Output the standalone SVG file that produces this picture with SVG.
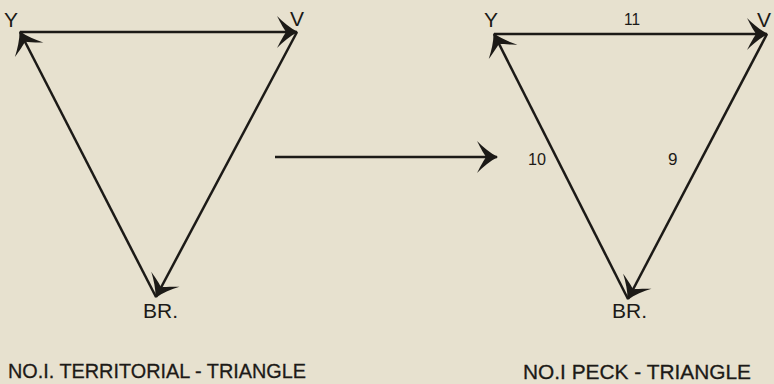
<svg xmlns="http://www.w3.org/2000/svg" width="774" height="384" viewBox="0 0 774 384">
  <style>
    .edge { stroke: #1c1a17; stroke-width: 2.5; fill: none; marker-end: url(#barb); }
    .lbl { font-family: "Liberation Sans", Arial, sans-serif; fill: #1c1a17; font-size: 21px; }
    .num { font-family: "Liberation Sans", Arial, sans-serif; fill: #1c1a17; font-size: 17px; }
    .cap { font-family: "Liberation Sans", Arial, sans-serif; fill: #1c1a17; font-size: 21px; stroke: #1c1a17; stroke-width: 0.3; }
  </style>
  <defs>
    <marker id="barb" markerUnits="userSpaceOnUse" orient="auto" refX="0" refY="0" markerWidth="40" markerHeight="40" overflow="visible">
      <path d="M1,0 C-7,-4 -14,-10 -20,-16 C-16,-8 -13,-3 -11,0 C-13,3 -16,8 -20,16 C-14,10 -7,4 1,0 Z" fill="#1c1a17"/>
    </marker>
  </defs>
  <rect width="774" height="384" fill="#e7e1cf"/>

  <g id="connectors">
    <line class="edge" x1="20" y1="32" x2="297" y2="32"/>
    <line class="edge" x1="297" y1="32" x2="156" y2="297"/>
    <line class="edge" x1="156" y1="297" x2="20" y2="32"/>
    <line class="edge" x1="275" y1="157" x2="497" y2="157"/>
    <line class="edge" x1="494" y1="34" x2="767" y2="34"/>
    <line class="edge" x1="767" y1="34" x2="628" y2="299"/>
    <line class="edge" x1="628" y1="299" x2="494" y2="34"/>
  </g>

  <g id="left-Y"><text class="lbl" x="4" y="27">Y</text></g>
  <g id="left-V"><text class="lbl" x="290" y="26">V</text></g>
  <g id="left-BR"><text class="lbl" x="143" y="318" textLength="35" lengthAdjust="spacingAndGlyphs">BR.</text></g>

  <g id="right-Y"><text class="lbl" x="484" y="27">Y</text></g>
  <g id="right-V"><text class="lbl" x="757" y="27">V</text></g>
  <g id="right-BR"><text class="lbl" x="612" y="318" textLength="35" lengthAdjust="spacingAndGlyphs">BR.</text></g>

  <g id="labels">
    <text class="num" x="624" y="25" textLength="16" lengthAdjust="spacingAndGlyphs">11</text>
    <text class="num" x="528" y="165" textLength="18" lengthAdjust="spacingAndGlyphs">10</text>
    <text class="num" x="668" y="165">9</text>
  </g>

  <g id="captions">
    <text class="cap" x="8" y="378" textLength="298" lengthAdjust="spacingAndGlyphs">NO.I. TERRITORIAL - TRIANGLE</text>
    <text class="cap" x="523" y="379" textLength="228" lengthAdjust="spacingAndGlyphs">NO.I PECK - TRIANGLE</text>
  </g>
</svg>
